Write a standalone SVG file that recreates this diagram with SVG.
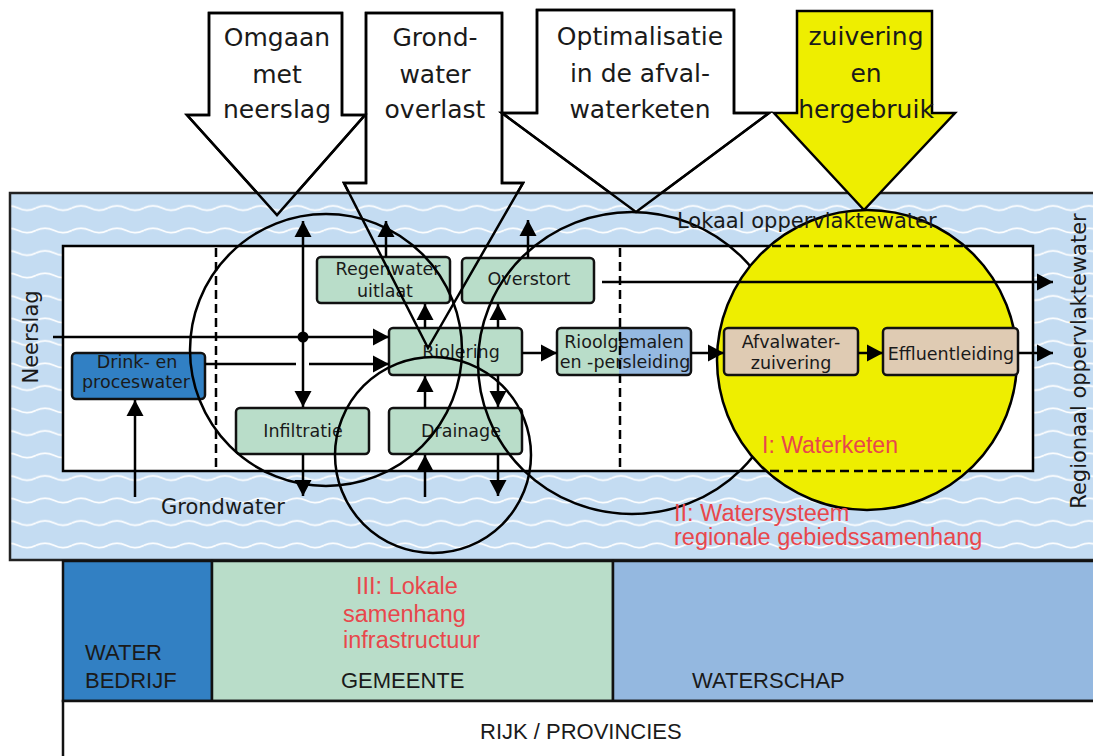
<svg xmlns="http://www.w3.org/2000/svg" width="1093" height="756" viewBox="0 0 1093 756">
<style>
.ds{font-family:"DejaVu Sans",sans-serif;fill:#1a1a1a}
.ls{font-family:"Liberation Sans",Arial,sans-serif;fill:#1a1a1a}
.red{font-family:"Liberation Sans",Arial,sans-serif;fill:#e8474c;font-size:23.5px}
.big{font-size:25px;text-anchor:middle}
.nd{font-size:17.5px;text-anchor:middle}
.lbl{font-size:21px}
.bar{font-size:22px}
.box{stroke:#111;stroke-width:2.5}
.green{fill:#b9ddc9}
.tan{fill:#dfcbb3}
.con{stroke:#000;stroke-width:2.5;fill:none}
.ring{fill:none;stroke:#000;stroke-width:2.5}
.dash{stroke:#000;stroke-width:2.5;stroke-dasharray:9 5;fill:none}
.afill{fill:#fff;stroke:#000;stroke-width:2.5;stroke-linejoin:miter}
.aline{fill:none;stroke:#000;stroke-width:2.5}
</style>
<defs>
<pattern id="waves" patternUnits="userSpaceOnUse" x="0" y="193" width="36" height="22.5">
<rect width="36" height="22.5" fill="#c4dcf2"/>
<path d="M0,15 C6,12 12,12 18,15 S30,18 36,15" stroke="#fff" stroke-width="1.7" fill="none"/>
</pattern>
<marker id="ah" markerUnits="userSpaceOnUse" markerWidth="18" markerHeight="18" refX="16" refY="9" orient="auto-start-reverse"><path d="M0,0.5 L16,9 L0,17.5 Z" fill="#000"/></marker>
<clipPath id="rg"><rect x="557" y="328" width="134" height="47" rx="4"/></clipPath>
</defs>

<!-- top block arrows (fill) -->
<g id="arrow-omgaan">
<polygon class="afill" points="209,13 342,13 342,115 365,115 277,215 187,115 209,115"/>
<text class="ds big" x="277" y="46">Omgaan</text>
<text class="ds big" x="277" y="83">met</text>
<text class="ds big" x="277" y="118">neerslag</text>
</g>
<g id="arrow-grondwater">
<polygon class="afill" points="366,13 502,13 502,183 523,183 428,348 344,183 366,183"/>
<text class="ds big" x="435" y="46">Grond-</text>
<text class="ds big" x="435" y="83">water</text>
<text class="ds big" x="435" y="118">overlast</text>
</g>
<g id="arrow-optimalisatie">
<polygon class="afill" points="537,10 734,10 734,113 769,113 636,212 502,113 537,113"/>
<text class="ds big" x="640" y="45">Optimalisatie</text>
<text class="ds big" x="640" y="82">in de afval-</text>
<text class="ds big" x="640" y="118">waterketen</text>
</g>

<!-- water system background -->
<g id="water">
<rect x="10" y="193" width="1095" height="367" fill="url(#waves)" stroke="#222" stroke-width="2.5"/>
</g>

<g id="arrow-zuivering">
<polygon points="797,11 932,11 932,113 955,113 864,210 774,113 797,113" fill="#eeee00" stroke="#000" stroke-width="2.5"/>
<text class="ds big" x="866" y="45">zuivering</text>
<text class="ds big" x="866" y="82">en</text>
<text class="ds big" x="866" y="118">hergebruik</text>
</g>

<!-- bottom organisation bars -->
<g id="bar-waterbedrijf">
<rect x="63" y="561" width="149" height="140" fill="#3280c3" class="box"/>
<text class="ls bar" x="85" y="660">WATER</text>
<text class="ls bar" x="85" y="688">BEDRIJF</text>
</g>
<g id="bar-gemeente">
<rect x="212" y="561" width="401" height="140" class="box green"/>
<text class="red" x="356" y="594">III: Lokale</text>
<text class="red" x="343" y="622">samenhang</text>
<text class="red" x="343" y="648">infrastructuur</text>
<text class="ls bar" x="341" y="688">GEMEENTE</text>
</g>
<g id="bar-waterschap">
<rect x="613" y="561" width="490" height="140" fill="#94b8e0" class="box"/>
<text class="ls bar" x="692" y="688">WATERSCHAP</text>
</g>
<g id="bar-rijk">
<rect x="63" y="701" width="1040" height="70" fill="#fff" class="box"/>
<text class="ls bar" x="480" y="739">RIJK / PROVINCIES</text>
</g>

<!-- inner local box -->
<g id="local-box">
<rect x="63" y="246" width="970" height="225" fill="#fff" stroke="#000" stroke-width="2.5"/>
</g>

<!-- nodes -->
<g id="node-drink">
<rect x="72" y="353" width="133" height="46" rx="4" fill="#3180c4" class="box"/>
<text class="ds nd" x="137" y="368">Drink- en</text>
<text class="ds nd" x="136" y="388">proceswater</text>
</g>
<g id="node-regenwater">
<rect x="317" y="257" width="133" height="46" rx="4" class="box green"/>
<text class="ds nd" x="388" y="275">Regenwater</text>
<text class="ds nd" x="385" y="297">uitlaat</text>
</g>
<g id="node-overstort">
<rect x="462" y="258" width="132" height="45" rx="4" class="box green"/>
<text class="ds nd" x="529" y="285">Overstort</text>
</g>
<g id="node-riolering">
<rect x="389" y="328" width="133" height="47" rx="4" class="box green"/>
<text class="ds nd" x="461" y="358">Riolering</text>
</g>
<g id="node-infiltratie">
<rect x="236" y="408" width="133" height="46" rx="4" class="box green"/>
<text class="ds nd" x="303" y="437">Infiltratie</text>
</g>
<g id="node-drainage">
<rect x="389" y="408" width="133" height="46" rx="4" class="box green"/>
<text class="ds nd" x="461" y="437">Drainage</text>
</g>
<g id="node-rioolgemalen">
<g clip-path="url(#rg)">
<rect x="557" y="328" width="62" height="47" fill="#b9ddc9"/>
<rect x="619" y="328" width="72" height="47" fill="#95b9e1"/>
</g>
<rect x="557" y="328" width="134" height="47" rx="4" fill="none" class="box"/>
<text class="ds nd" x="624" y="348">Rioolgemalen</text>
<text class="ds nd" x="625" y="368">en -persleiding</text>
</g>

<g id="dividers">
<line class="dash" x1="216" y1="248" x2="216" y2="470"/>
<line class="dash" x1="620" y1="248" x2="620" y2="470"/>
</g>

<!-- region circles -->
<g id="region-omgaan"><circle class="ring" cx="326" cy="350" r="136"/></g>
<g id="region-optimalisatie"><ellipse class="ring" cx="632" cy="363" rx="154" ry="151"/></g>
<g id="region-grondwater"><circle class="ring" cx="433" cy="455" r="98"/></g>
<g id="region-waterketen">
<circle cx="867" cy="360" r="150" fill="#eeee00" stroke="#000" stroke-width="2.5"/>
<line class="dash" x1="772" y1="246" x2="963" y2="246"/>
<line class="dash" x1="770" y1="471" x2="966" y2="471"/>
</g>

<g id="node-afvalwaterzuivering">
<rect x="724" y="328" width="134" height="47" rx="4" class="box tan"/>
<text class="ds nd" x="791" y="348">Afvalwater-</text>
<text class="ds nd" x="791" y="369">zuivering</text>
</g>
<g id="node-effluentleiding">
<rect x="883" y="328" width="135" height="47" rx="4" class="box tan"/>
<text class="ds nd" x="951" y="360">Effluentleiding</text>
</g>

<!-- connectors -->
<g id="connectors">
<line class="con" x1="53" y1="337" x2="389" y2="337" marker-end="url(#ah)"/>
<circle cx="303" cy="337" r="5.5" fill="#000"/>
<line class="con" x1="205" y1="364" x2="296" y2="364"/>
<line class="con" x1="309" y1="364" x2="389" y2="364" marker-end="url(#ah)"/>
<line class="con" x1="303" y1="221" x2="303" y2="407" marker-start="url(#ah)" marker-end="url(#ah)"/>
<line class="con" x1="386" y1="257" x2="386" y2="221" marker-end="url(#ah)"/>
<line class="con" x1="528" y1="258" x2="528" y2="220" marker-end="url(#ah)"/>
<line class="con" x1="425" y1="328" x2="425" y2="304" marker-end="url(#ah)"/>
<line class="con" x1="498" y1="328" x2="498" y2="304" marker-end="url(#ah)"/>
<line class="con" x1="498" y1="375" x2="498" y2="407" marker-end="url(#ah)"/>
<line class="con" x1="425" y1="408" x2="425" y2="376" marker-end="url(#ah)"/>
<line class="con" x1="303" y1="454" x2="303" y2="496" marker-end="url(#ah)"/>
<line class="con" x1="425" y1="497" x2="425" y2="455" marker-end="url(#ah)"/>
<line class="con" x1="498" y1="454" x2="498" y2="496" marker-end="url(#ah)"/>
<line class="con" x1="135" y1="497" x2="135" y2="400" marker-end="url(#ah)"/>
<line class="con" x1="522" y1="353" x2="557" y2="353" marker-end="url(#ah)"/>
<line class="con" x1="691" y1="353" x2="724" y2="353" marker-end="url(#ah)"/>
<line class="con" x1="858" y1="353" x2="883" y2="353" marker-end="url(#ah)"/>
<line class="con" x1="1018" y1="353" x2="1053" y2="353" marker-end="url(#ah)"/>
<line class="con" x1="602" y1="282" x2="1053" y2="282" marker-end="url(#ah)"/>
</g>

<!-- block arrow outlines over the water area -->
<g id="arrow-outlines">
<polygon class="aline" points="209,13 342,13 342,115 365,115 277,215 187,115 209,115"/>
<polygon class="aline" points="366,13 502,13 502,183 523,183 428,348 344,183 366,183"/>
<polygon class="aline" points="537,10 734,10 734,113 769,113 636,212 502,113 537,113"/>
</g>

<!-- labels -->
<g id="labels">
<text class="ds lbl" transform="translate(38,337) rotate(-90)" text-anchor="middle">Neerslag</text>
<text class="ds lbl" x="161" y="514">Grondwater</text>
<text class="ds lbl" x="677" y="228">Lokaal oppervlaktewater</text>
<text class="ds lbl" transform="translate(1086,361) rotate(-90)" text-anchor="middle">Regionaal oppervlaktewater</text>
<text class="red" x="762" y="453" style="font-size:23px">I: Waterketen</text>
<text class="red" x="674" y="521">II: Watersysteem</text>
<text class="red" x="674" y="545">regionale gebiedssamenhang</text>
</g>
</svg>
